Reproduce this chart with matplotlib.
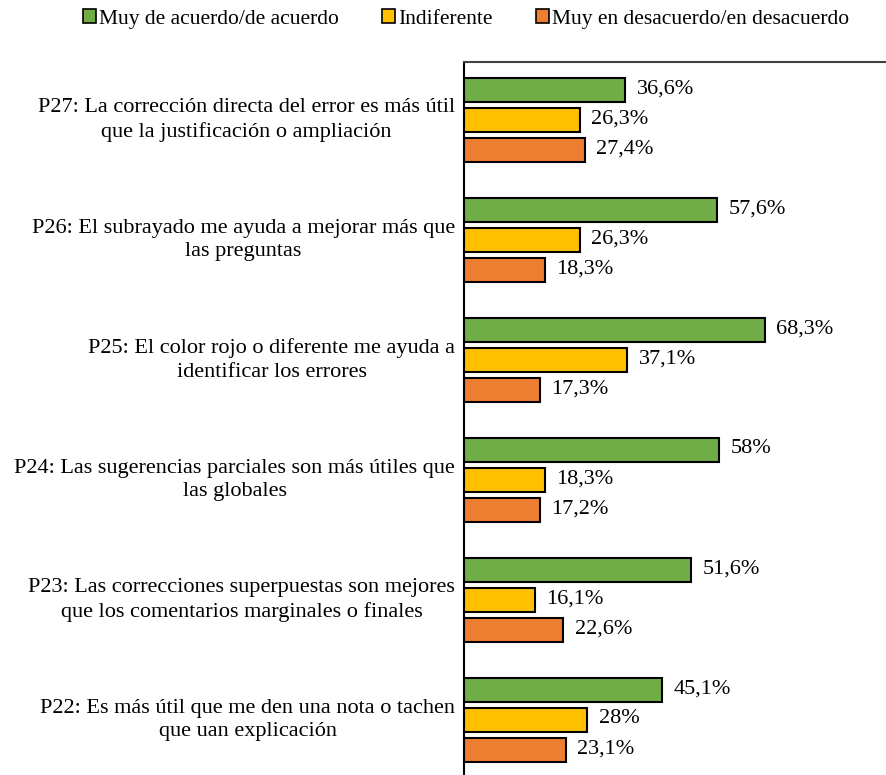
import matplotlib
matplotlib.use("Agg")
import matplotlib.pyplot as plt
from matplotlib.patches import Patch

plt.rcParams['font.family'] = ['Liberation Serif', 'DejaVu Serif']

# questions, bottom to top as drawn
questions = [
    "P22: Es más útil que me den una nota o tachen\nque uan explicación",
    "P23: Las correcciones superpuestas son mejores\nque los comentarios marginales o finales",
    "P24: Las sugerencias parciales son más útiles que\nlas globales",
    "P25: El color rojo o diferente me ayuda a\nidentificar los errores",
    "P26: El subrayado me ayuda a mejorar más que\nlas preguntas",
    "P27: La corrección directa del error es más útil\nque la justificación o ampliación",
]
acuerdo = [45.1, 51.6, 58.0, 68.3, 57.6, 36.6]
indiferente = [28.0, 16.1, 18.3, 37.1, 26.3, 26.3]
desacuerdo = [23.1, 22.6, 17.2, 17.3, 18.3, 27.4]
acuerdo_lbl = ["45,1%", "51,6%", "58%", "68,3%", "57,6%", "36,6%"]
indiferente_lbl = ["28%", "16,1%", "18,3%", "37,1%", "26,3%", "26,3%"]
desacuerdo_lbl = ["23,1%", "22,6%", "17,2%", "17,3%", "18,3%", "27,4%"]

series = [
    ("Muy de acuerdo/de acuerdo", acuerdo, acuerdo_lbl, "#70AD47", 0.25),
    ("Indiferente", indiferente, indiferente_lbl, "#FFC000", 0.0),
    ("Muy en desacuerdo/en desacuerdo", desacuerdo, desacuerdo_lbl, "#ED7D31", -0.25),
]

W, H = 887, 775
fig = plt.figure(figsize=(W / 100, H / 100), dpi=100)
ax = fig.add_axes([464 / W, 0, 1 - 464 / W, (H - 62) / H])

ypos = list(range(len(questions)))
for name, vals, lbls, col, off in series:
    y = [p + off for p in ypos]
    ax.barh(y, vals, height=0.2, color=col, edgecolor="black", linewidth=1.5)
    for yy, v, t in zip(y, vals, lbls):
        ax.text(v + 2.6, yy + 0.01, t, va="center", ha="left", fontsize=16)

for p, q in zip(ypos, questions):
    ax.text(-2.0, p, q, ha="right", va="center", multialignment="center",
            fontsize=16, linespacing=1.3)

ax.set_xlim(0, 423 / 4.4)
ax.set_ylim(-0.458, 5.483)
ax.set_xticks([])
ax.set_yticks([])
ax.spines["right"].set_visible(False)
ax.spines["bottom"].set_visible(False)
ax.spines["left"].set_linewidth(1.5)
ax.spines["top"].set_linewidth(1.5)
ax.spines["top"].set_color("#404040")

handles = [Patch(facecolor=c, edgecolor="black", linewidth=1.2, label=n) for n, _, _, c, _ in series]
fig.legend(handles=handles, loc="center", bbox_to_anchor=(466 / W, 1 - 19 / H), ncol=3,
           frameon=False, fontsize=15.5, handlelength=0.6, handleheight=0.6,
           handletextpad=0.15, columnspacing=2.0)

fig.savefig("out.png", dpi=100)
